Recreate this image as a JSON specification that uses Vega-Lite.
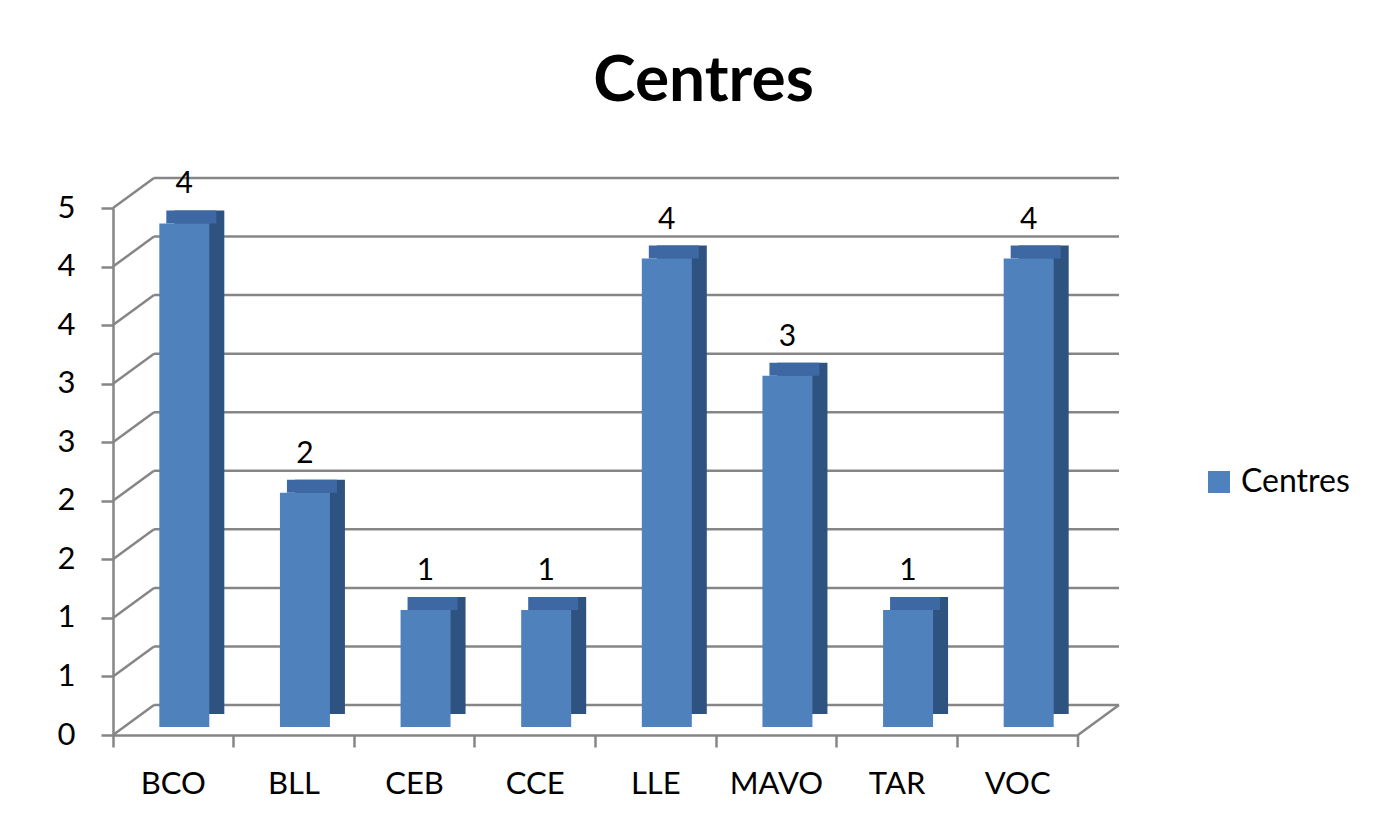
{
  "$schema": "https://vega.github.io/schema/vega-lite/v6.json",
  "width": 965,
  "height": 527,
  "autosize": {"type": "none"},
  "padding": {"left": 113, "top": 208, "right": 313, "bottom": 97},
  "background": "white",
  "title": {"text": "Centres", "font": "Lato", "fontWeight": "bold", "fontSize": 64, "color": "black", "dx": 108, "offset": 55},
  "datasets": {
    "bars": [
      {"centre": "BCO", "value": 4.3},
      {"centre": "BLL", "value": 2},
      {"centre": "CEB", "value": 1},
      {"centre": "CCE", "value": 1},
      {"centre": "LLE", "value": 4},
      {"centre": "MAVO", "value": 3},
      {"centre": "TAR", "value": 1},
      {"centre": "VOC", "value": 4}
    ],
    "grid": [
      {"v": 0}, {"v": 0.5}, {"v": 1}, {"v": 1.5}, {"v": 2}, {"v": 2.5}, {"v": 3}, {"v": 3.5}, {"v": 4}, {"v": 4.5}
    ]
  },
  "encoding": {
    "x": {"field": "centre", "type": "nominal", "sort": null,
      "scale": {"domain": ["BCO","BLL","CEB","CCE","LLE","MAVO","TAR","VOC"], "paddingInner": 0, "paddingOuter": 0},
      "axis": {"title": null, "labelAngle": 0, "labelFont": "Lato", "labelFontSize": 31, "labelColor": "black", "labelPadding": 22,
        "bandPosition": 0, "tickSize": 12, "tickColor": "#868686", "tickWidth": 2.5, "domainColor": "#868686", "domainWidth": 2.5, "grid": false, "zindex": 0}
    },
    "y": {"type": "quantitative", "scale": {"domain": [0, 4.5], "nice": false, "zero": true},
      "axis": {"title": null, "values": [0,0.5,1,1.5,2,2.5,3,3.5,4,4.5], "labelExpr": "round(datum.value)", "labelFont": "Lato", "labelFontSize": 31, "labelColor": "black", "labelPadding": 26,
        "tickSize": 12, "tickColor": "#868686", "tickWidth": 2.5, "domainColor": "#868686", "domainWidth": 2.5, "grid": false, "zindex": 0}
    }
  },
  "layer": [
    {
      "data": {"name": "grid"},
      "mark": {"type": "rule", "color": "#868686", "strokeWidth": 2.5, "xOffset": 41, "x2Offset": 101.3, "yOffset": -30, "y2Offset": -30},
      "encoding": {
        "x": {"datum": "BCO", "type": "nominal", "bandPosition": 0},
        "x2": {"datum": "VOC"},
        "y": {"field": "v", "type": "quantitative"},
        "y2": {"field": "v"}
      }
    },
    {
      "data": {"name": "grid"},
      "mark": {"type": "rule", "color": "#868686", "strokeWidth": 2.5, "x2Offset": -19.3, "y2Offset": -30},
      "encoding": {
        "x": {"datum": "BCO", "type": "nominal", "bandPosition": 0},
        "x2": {"datum": "BCO"},
        "y": {"field": "v", "type": "quantitative"},
        "y2": {"field": "v"}
      }
    },
    {
      "data": {"name": "grid"},
      "transform": [{"filter": "datum.v == 0"}],
      "mark": {"type": "rule", "color": "#868686", "strokeWidth": 2.5, "x2Offset": 101.3, "y2Offset": -30},
      "encoding": {
        "x": {"datum": "VOC", "type": "nominal", "bandPosition": 1},
        "x2": {"datum": "VOC"},
        "y": {"field": "v", "type": "quantitative"},
        "y2": {"field": "v"}
      }
    },
    {
      "data": {"name": "grid"},
      "transform": [{"filter": "datum.v == 0"}],
      "mark": {"type": "rule", "color": "#868686", "strokeWidth": 2.5, "y2Offset": 12},
      "encoding": {
        "x": {"datum": "VOC", "type": "nominal", "bandPosition": 1},
        "y": {"field": "v", "type": "quantitative"},
        "y2": {"field": "v"}
      }
    },
    {
      "data": {"name": "bars"},
      "mark": {"type": "bar", "size": 50, "color": "#2f5380", "xOffset": 26, "yOffset": -21, "y2Offset": -21},
      "encoding": {"y": {"field": "value", "type": "quantitative"}}
    },
    {
      "data": {"name": "bars"},
      "mark": {"type": "bar", "size": 50, "color": "#3d68a3", "xOffset": 18, "yOffset": -21, "y2Offset": -8},
      "encoding": {"y": {"field": "value", "type": "quantitative"}, "y2": {"field": "value"}}
    },
    {
      "data": {"name": "bars"},
      "mark": {"type": "bar", "size": 50, "xOffset": 11, "yOffset": -8, "y2Offset": -8},
      "encoding": {
        "y": {"field": "value", "type": "quantitative"},
        "color": {"datum": "Centres", "type": "nominal", "scale": {"domain": ["Centres"], "range": ["#4f81bd"]},
          "legend": {"title": null, "orient": "none", "legendX": 1090, "legendY": 258, "symbolType": "square", "symbolSize": 484, "symbolStrokeWidth": 0, "labelFont": "Lato", "labelFontSize": 32, "labelColor": "black", "labelOffset": 6}}
      }
    },
    {
      "data": {"name": "bars"},
      "mark": {"type": "text", "font": "Lato", "fontSize": 30, "color": "black", "baseline": "middle", "xOffset": 11, "yOffset": -47},
      "encoding": {
        "y": {"field": "value", "type": "quantitative"},
        "text": {"field": "value", "format": ".0f"}
      }
    }
  ],
  "config": {"view": {"stroke": null}}
}
